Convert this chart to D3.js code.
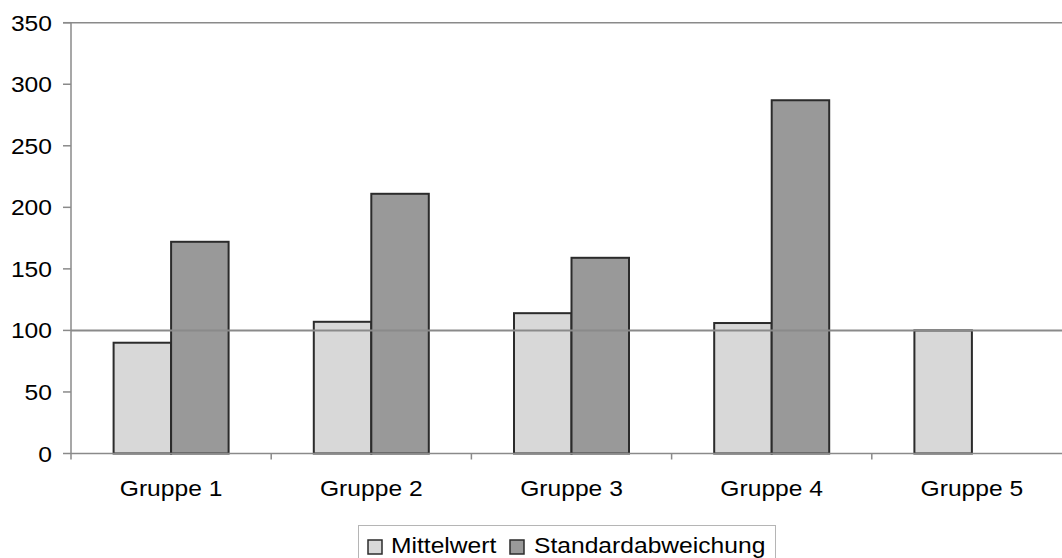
<!DOCTYPE html>
<html>
<head>
<meta charset="utf-8">
<script src="https://cdn.jsdelivr.net/npm/d3@7"></script>
<style>
  html, body { margin: 0; padding: 0; background: #fff; }
  svg { display: block; }
  text { font-family: "Liberation Sans", Arial, sans-serif; fill: #000; }
</style>
</head>
<body>
<svg id="chart" width="1062" height="558"></svg>
<script>
// Data
const groups = ["Gruppe 1", "Gruppe 2", "Gruppe 3", "Gruppe 4", "Gruppe 5"];
const seriesNames = ["Mittelwert", "Standardabweichung"];
const mittelwert = [90, 107, 114, 106, 100];
const standardabweichung = [172, 211, 159, 287, null];
const yTicks = [0, 50, 100, 150, 200, 250, 300, 350];
const referenceValue = 100;

const colors = { "Mittelwert": "#d8d8d8", "Standardabweichung": "#999999" };
const FS = 22, SX = 1.12; // font size and horizontal text stretch

const svg = d3.select("#chart");
const plot = { left: 71, right: 1072, top: 22.7, bottom: 453.5 };

const x0 = d3.scaleBand().domain(groups).range([plot.left, plot.right]).paddingInner(0).paddingOuter(0);
const groupWidth = 115;
const x1 = d3.scaleBand().domain(seriesNames).range([0, groupWidth]);
const y = d3.scaleLinear().domain([0, 350]).range([plot.bottom, plot.top]);

const rows = groups.map((g, i) => ({
  group: g,
  values: [
    { key: "Mittelwert", value: mittelwert[i] },
    { key: "Standardabweichung", value: standardabweichung[i] }
  ]
}));

// Plot frame top line (at 350)
svg.append("line")
  .attr("x1", plot.left - 8).attr("x2", 1062)
  .attr("y1", y(350)).attr("y2", y(350))
  .attr("stroke", "#8a8a8a").attr("stroke-width", 1.5);

// Y axis
const yAxis = svg.append("g").attr("transform", `translate(${plot.left},0)`);
yAxis.append("line")
  .attr("x1", 0).attr("x2", 0)
  .attr("y1", y(350)).attr("y2", plot.bottom + 6)
  .attr("stroke", "#8a8a8a").attr("stroke-width", 1.5);
yAxis.selectAll("line.tick").data(yTicks).join("line")
  .attr("class", "tick")
  .attr("x1", -8).attr("x2", 0)
  .attr("y1", d => y(d)).attr("y2", d => y(d))
  .attr("stroke", "#8a8a8a").attr("stroke-width", 1.5);
yAxis.selectAll("text").data(yTicks).join("text")
  .attr("transform", d => `translate(-19,${y(d) + 8}) scale(${SX},1)`)
  .attr("text-anchor", "end")
  .attr("font-size", FS)
  .text(d => d);

// Bars
const gGroups = svg.selectAll("g.grp").data(rows).join("g")
  .attr("class", "grp")
  .attr("transform", d => `translate(${x0(d.group) + (x0.bandwidth() - groupWidth) / 2},0)`);
gGroups.selectAll("rect")
  .data(d => d.values.filter(v => v.value != null))
  .join("rect")
  .attr("x", d => x1(d.key))
  .attr("width", x1.bandwidth())
  .attr("y", d => y(d.value))
  .attr("height", d => y(0) - y(d.value))
  .attr("fill", d => colors[d.key])
  .attr("stroke", "#2b2b2b")
  .attr("stroke-width", 2);

// X axis
svg.append("line")
  .attr("x1", plot.left).attr("x2", 1062)
  .attr("y1", y(0)).attr("y2", y(0))
  .attr("stroke", "#8a8a8a").attr("stroke-width", 1.5);
svg.selectAll("line.xtick").data(groups.slice(1)).join("line")
  .attr("class", "xtick")
  .attr("x1", d => x0(d)).attr("x2", d => x0(d))
  .attr("y1", y(0)).attr("y2", y(0) + 6)
  .attr("stroke", "#8a8a8a").attr("stroke-width", 1.5);
svg.selectAll("text.xlab").data(groups).join("text")
  .attr("class", "xlab")
  .attr("transform", d => `translate(${x0(d) + x0.bandwidth() / 2},${y(0) + 42}) scale(${SX},1)`)
  .attr("text-anchor", "middle")
  .attr("font-size", FS)
  .text(d => d);

// Reference line at 100
svg.append("line")
  .attr("x1", plot.left).attr("x2", 1062)
  .attr("y1", y(referenceValue)).attr("y2", y(referenceValue))
  .attr("stroke", "#8a8a8a").attr("stroke-width", 2);

// Legend
const legend = svg.append("g");
legend.append("rect")
  .attr("x", 358.5).attr("y", 525.5)
  .attr("width", 417).attr("height", 40)
  .attr("fill", "#fff").attr("stroke", "#b5b5b5").attr("stroke-width", 1);
const legendItems = [
  { key: "Mittelwert", sx: 368, tx: 391 },
  { key: "Standardabweichung", sx: 510, tx: 534 }
];
legendItems.forEach(it => {
  legend.append("rect")
    .attr("x", it.sx).attr("y", 540)
    .attr("width", 14).attr("height", 14)
    .attr("fill", colors[it.key])
    .attr("stroke", "#2b2b2b").attr("stroke-width", 1.5);
  legend.append("text")
    .attr("transform", `translate(${it.tx},553) scale(${SX},1)`)
    .attr("font-size", FS)
    .text(it.key);
});
</script>
</body>
</html>
